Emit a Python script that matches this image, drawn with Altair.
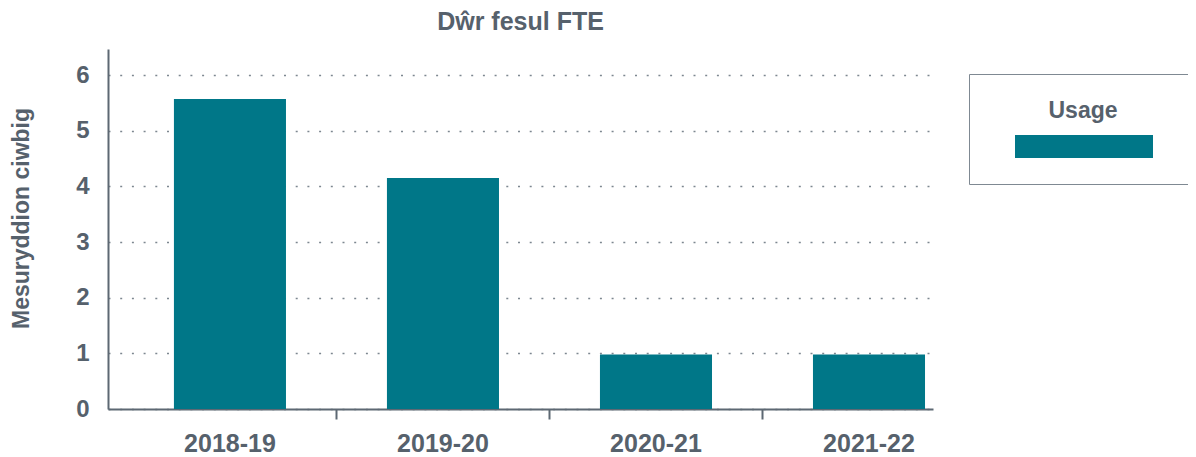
import altair as alt
import pandas as pd

years = ["2018-19", "2019-20", "2020-21", "2021-22"]
usage = [5.57, 4.15, 0.98, 0.98]
series = ["Usage", "Usage", "Usage", "Usage"]
y_ticks = [0, 1, 2, 3, 4, 5, 6]

df = pd.DataFrame({"Blwyddyn": years, "Defnydd": usage, "Cyfres": series})

FONT = "Liberation Sans"
TEXT = "#56616c"
AXIS = "#5d6873"
TEAL = "#007788"

PAD_INNER = 0.474

chart = alt.Chart(df).mark_bar().encode(
    x=alt.X(
        "Blwyddyn:N",
        sort=years,
        title=None,
        scale=alt.Scale(paddingInner=PAD_INNER, paddingOuter=0.1735, align=0.892),
        axis=alt.Axis(
            labelAngle=0,
            bandPosition=-PAD_INNER / (2 * (1 - PAD_INNER)),
            ticks=True,
            tickSize=10,
            tickWidth=2,
            tickColor=AXIS,
            tickOpacity={"condition": {"test": "datum.value === '2018-19'", "value": 0}, "value": 1},
            domainColor=AXIS,
            domainWidth=2,
            labelFont=FONT,
            labelFontSize=25,
            labelFontWeight="bold",
            labelColor=TEXT,
            labelPadding=12,
            grid=False,
        ),
    ),
    y=alt.Y(
        "Defnydd:Q",
        title="Mesuryddion ciwbig",
        scale=alt.Scale(domain=[0, 6.47], nice=False, zero=True),
        axis=alt.Axis(
            values=y_ticks,
            ticks=False,
            tickSize=0,
            domainColor=AXIS,
            domainWidth=2,
            labelFont=FONT,
            labelFontSize=24,
            labelFontWeight="bold",
            labelColor=TEXT,
            labelPadding=19,
            grid=True,
            gridDash=[2, 9.7],
            gridColor="#7d8790",
            gridWidth=1.5,
            titleFont=FONT,
            titleFontSize=23,
            titleFontWeight="bold",
            titleColor=TEXT,
            titleAngle=270,
            titleX=-87,
            titleY=169,
            titleAlign="center",
            titleBaseline="middle",
        ),
    ),
    color=alt.Color(
        "Cyfres:N",
        scale=alt.Scale(range=[TEAL]),
        legend=alt.Legend(
            title="Usage",
            orient="none",
            legendX=861,
            legendY=25,
            padding=26,
            strokeColor="#7f8992",
            fillColor="white",
            symbolType="M-6,-1H6V1H-6Z",
            symbolSize=529,
            symbolStrokeWidth=0,
            symbolOpacity=1,
            symbolOffset=77.5,
            labelOffset=75.5,
            labelExpr="''",
            titleAnchor="middle",
            titleFont=FONT,
            titleFontSize=23,
            titleFontWeight="bold",
            titleColor=TEXT,
            titlePadding=12,
        ),
    ),
).properties(
    width=825,
    height=360,
    title=alt.Title(
        "Dŵr fesul FTE",
        font=FONT,
        fontSize=25,
        fontWeight="bold",
        color=TEXT,
        anchor="middle",
        offset=14,
    ),
    autosize=alt.AutoSizeParams(type="none"),
    padding={"left": 100, "top": 41, "right": 255, "bottom": 48},
).configure_view(stroke=None)

chart.save("out.html", embed_options={"renderer": "svg", "actions": False})
